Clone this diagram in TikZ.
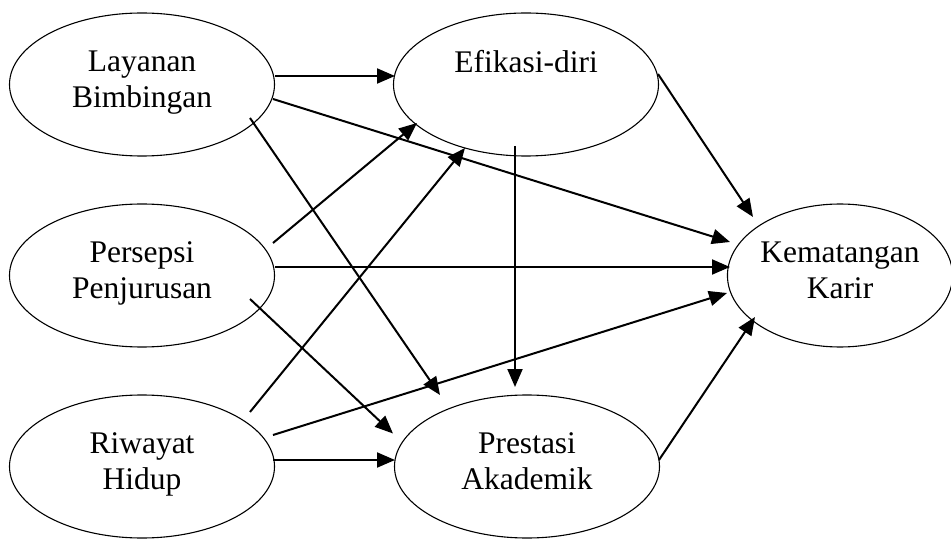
\documentclass[tikz,border=0pt]{standalone}
\usepackage{fontspec}
\setmainfont{Liberation Serif}
\usetikzlibrary{shapes.geometric,arrows.meta}
\tikzset{
    var-node/.style = {draw, ellipse, line width=1.1pt, inner sep=0pt, outer sep=0pt, minimum width=265pt, minimum height=143pt, align=center, font=\fontsize{31.5}{36}\selectfont},
    path-arrow/.style = {line width=2pt, -{Triangle[length=18pt, width=15pt]}},
}

\begin{document}
\begin{tikzpicture}[x=1pt, y=-1pt]
\useasboundingbox (0,0) rectangle (951,540);
% variables
\node[var-node] (lay) at (142,84.5) {Layanan\\Bimbingan\strut};
\node[var-node] (per) at (142,275.5) {Persepsi\\Penjurusan\strut};
\node[var-node] (rwy) at (142,466.5) {Riwayat\\Hidup\strut};
\node[var-node] (efi) at (526,84.5) {Efikasi-diri\\\strut};
\node[var-node] (pre) at (527,466.5) {Prestasi\\Akademik\strut};
\node[var-node, minimum width=217pt] (kem) at (840,275.5) {Kematangan\\Karir\strut};
% paths
\draw[path-arrow] ([shift={(133,-8.5)}]lay.center) -- ([shift={(-131,-8.5)}]efi.center);
\draw[path-arrow] ([shift={(131,14.5)}]lay.center) -- ([shift={(-110,-33.5)}]kem.center);
\draw[path-arrow] ([shift={(108,33.5)}]lay.center) -- ([shift={(-87,-71.5)}]pre.center);
\draw[path-arrow] ([shift={(131,-32.5)}]per.center) -- ([shift={(-109,38.5)}]efi.center);
\draw[path-arrow] ([shift={(133,-8.5)}]per.center) -- ([shift={(-110,-8.5)}]kem.center);
\draw[path-arrow] ([shift={(108,23.5)}]per.center) -- ([shift={(-134,-33)}]pre.center);
\draw[path-arrow] ([shift={(108,-54.5)}]rwy.center) -- ([shift={(-61,63.5)}]efi.center);
\draw[path-arrow] ([shift={(131,-31.5)}]rwy.center) -- ([shift={(-113,17.5)}]kem.center);
\draw[path-arrow] ([shift={(131,-6.5)}]rwy.center) -- ([shift={(-132,-6.5)}]pre.center);
\draw[path-arrow] ([shift={(-11,61.5)}]efi.center) -- ([shift={(-12,-79.5)}]pre.center);
\draw[path-arrow] ([shift={(132,-10.5)}]efi.center) -- ([shift={(-87,-58.5)}]kem.center);
\draw[path-arrow] ([shift={(132,-6.5)}]pre.center) -- ([shift={(-85,41.5)}]kem.center);
\end{tikzpicture}
\end{document}
